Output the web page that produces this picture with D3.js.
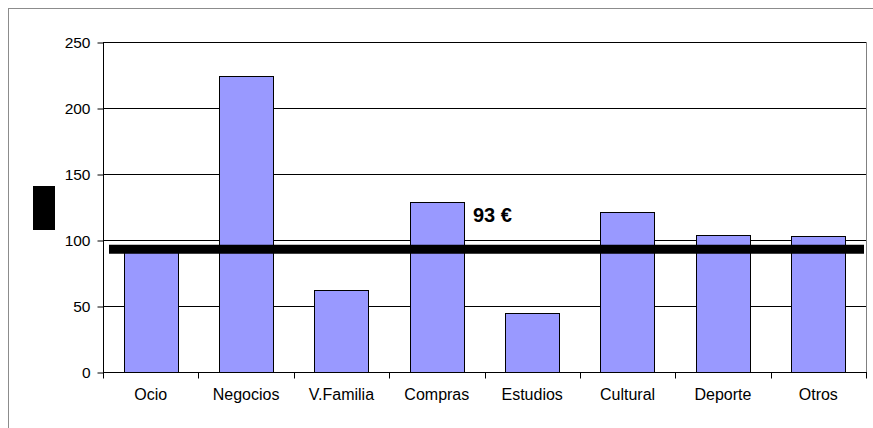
<!DOCTYPE html>
<html><head><meta charset="utf-8">
<script src="https://cdn.jsdelivr.net/npm/d3@7/dist/d3.min.js"></script>
<style>body{margin:0;background:#fff}svg{display:block;font-family:"Liberation Sans",Arial,sans-serif}</style>
</head><body><svg id="c" width="873" height="428"></svg>
<script>
const categories = ["Ocio","Negocios","V.Familia","Compras","Estudios","Cultural","Deporte","Otros"];
const values = [92,224,62,129,45,121,104,103];
const yTicks = [0,50,100,150,200,250];
const average = 93;
const averageLabel = "93 €";

const svg = d3.select("#c");
const m = {l:103, r:866, t:42, b:372};
const x = d3.scaleBand().domain(categories).range([m.l, m.r]).paddingInner(0.43).paddingOuter(0.215);
const xEdge = d3.scaleBand().domain(categories).range([m.l, m.r]);
const y = d3.scaleLinear().domain([0,250]).range([m.b, m.t]);

// outer frame
svg.append("rect").attr("x",8.5).attr("y",8.5).attr("width",900).attr("height",500)
  .attr("fill","none").attr("stroke","#8c8c8c").attr("stroke-width",1);

// gridlines
svg.append("g").selectAll("line").data(yTicks.filter(d=>d>0)).join("line")
  .attr("x1",m.l).attr("x2",m.r)
  .attr("y1",d=>Math.round(y(d))+0.5).attr("y2",d=>Math.round(y(d))+0.5)
  .attr("stroke","#000").attr("stroke-width",1);

// right plot border
svg.append("line").attr("x1",m.r+0.5).attr("x2",m.r+0.5).attr("y1",m.t).attr("y2",m.b)
  .attr("stroke","#808080");

// bars
svg.append("g").selectAll("rect").data(values).join("rect")
  .attr("x",(d,i)=>Math.round(x(categories[i]))+0.5)
  .attr("width",Math.round(x.bandwidth()))
  .attr("y",d=>Math.round(y(d))+0.5)
  .attr("height",d=>Math.round(y(0))-Math.round(y(d)))
  .attr("fill","#9999ff").attr("stroke","#000").attr("stroke-width",1);

// y axis
const yAxis = d3.axisLeft(y).tickValues(yTicks).tickSize(6).tickPadding(7);
const gy = svg.append("g").attr("transform",`translate(${m.l+0.5},0.5)`).call(yAxis);
gy.selectAll("text").attr("font-size",15.5).attr("fill","#000").attr("font-family","Liberation Sans, Arial, sans-serif");
gy.selectAll("line,path").attr("stroke","#000");
gy.select(".domain").attr("d",`M0,${m.t}V${m.b}`);

// x axis: ticks at band edges
const gx = svg.append("g").attr("transform",`translate(0,${m.b+0.5})`);
gx.append("line").attr("x1",m.l).attr("x2",m.r+1).attr("y1",0).attr("y2",0).attr("stroke","#000");
const edges = categories.map(c=>xEdge(c)).concat([m.r]);
gx.selectAll("line.t").data(edges).join("line").attr("class","t")
  .attr("x1",d=>Math.round(d)+0.5).attr("x2",d=>Math.round(d)+0.5).attr("y1",0).attr("y2",6).attr("stroke","#000");
gx.selectAll("text").data(categories).join("text")
  .attr("x",d=>xEdge(d)+xEdge.bandwidth()/2).attr("y",27)
  .attr("text-anchor","middle").attr("font-size",16).attr("fill","#000").text(d=>d);

// average line
svg.append("line").attr("x1",109).attr("x2",864).attr("y1",y(average)).attr("y2",y(average))
  .attr("stroke","#000").attr("stroke-width",9);
svg.append("text").attr("x",473).attr("y",222).attr("font-size",20).attr("font-weight","bold")
  .attr("fill","#000").text(averageLabel);

// axis title (rendered as black block in reference)
svg.append("rect").attr("x",33).attr("y",186).attr("width",22).attr("height",44).attr("fill","#000");
</script></body></html>
